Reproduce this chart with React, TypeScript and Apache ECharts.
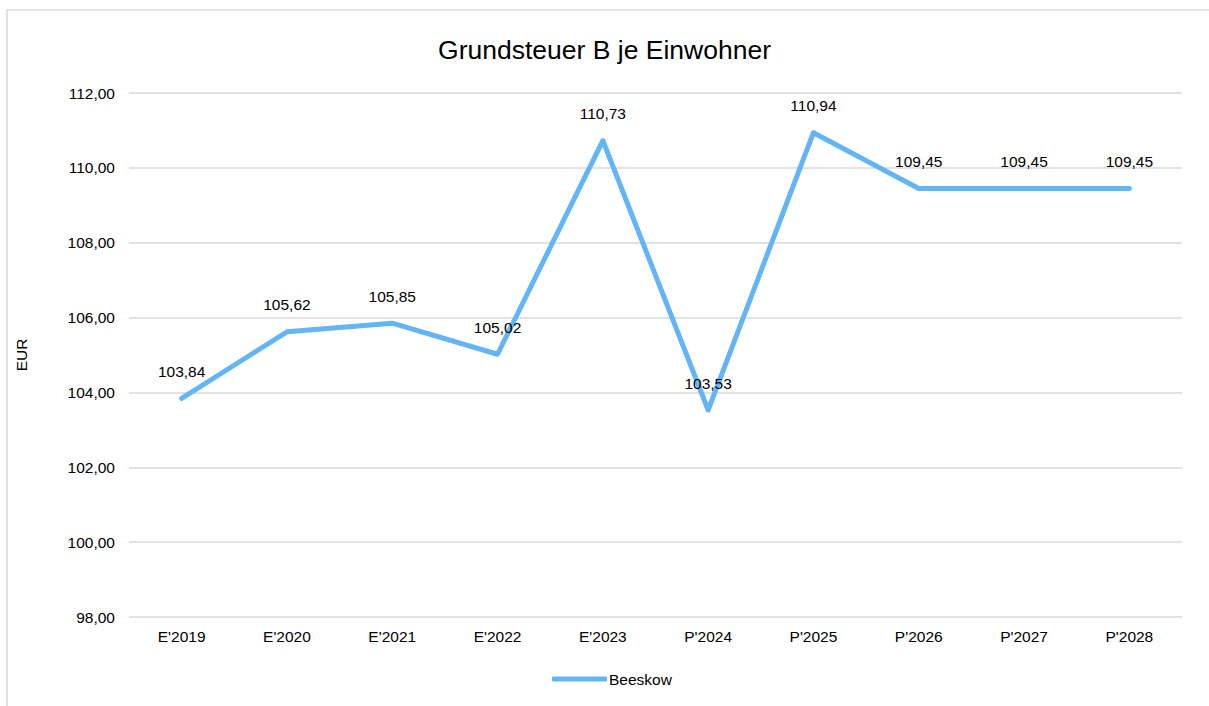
import React, { useEffect, useRef } from "react";
import * as echarts from "echarts";

const categories = ["E'2019", "E'2020", "E'2021", "E'2022", "E'2023", "P'2024", "P'2025", "P'2026", "P'2027", "P'2028"];
const values = [103.84, 105.62, 105.85, 105.02, 110.73, 103.53, 110.94, 109.45, 109.45, 109.45];
const seriesName = "Beeskow";
const titleText = "Grundsteuer B je Einwohner";
const yAxisName = "EUR";

const fmt = (v: number) => v.toFixed(2).replace(".", ",");
const FONT = "'Liberation Sans', Arial, sans-serif";
const FS = 15.5;
const LINE_COLOR = "#64b5f6";

export default function App() {
  const ref = useRef<HTMLDivElement>(null);
  useEffect(() => {
    document.body.style.margin = "0";
    const chart = echarts.init(ref.current!, null, { renderer: "svg" });
    chart.setOption({
      animation: false,
      backgroundColor: "#ffffff",
      textStyle: { fontFamily: FONT },
      title: {
        text: titleText,
        left: "center",
        top: 31,
        textStyle: { fontFamily: FONT, fontSize: 26.5, fontWeight: "normal", color: "#000" },
      },
      graphic: [
        {
          type: "rect",
          shape: { x: 7, y: 10, width: 1210, height: 720 },
          style: { fill: "none", stroke: "#d9d9d9", lineWidth: 1.5 },
          silent: true,
        },
      ],
      grid: { left: 129, right: 27, top: 93, bottom: 89, containLabel: false },
      legend: {
        data: [seriesName],
        left: 547,
        top: 666,
        icon: "roundRect",
        itemWidth: 55,
        itemHeight: 5,
        itemGap: 4,
        textStyle: { fontFamily: FONT, fontSize: FS, color: "#000", padding: [0, 0, 0, -3] },
      },
      xAxis: {
        type: "category",
        data: categories,
        axisLine: { show: false },
        axisTick: { show: false },
        axisLabel: { fontFamily: FONT, fontSize: FS, color: "#000", margin: 11 },
      },
      yAxis: {
        type: "value",
        min: 98,
        max: 112,
        interval: 2,
        name: yAxisName,
        nameLocation: "middle",
        nameGap: 100,
        nameTextStyle: { fontFamily: FONT, fontSize: FS, color: "#000" },
        axisLine: { show: false },
        axisTick: { show: false },
        axisLabel: { fontFamily: FONT, fontSize: FS, color: "#000", margin: 14, formatter: (v: number) => fmt(v) },
        splitLine: { lineStyle: { color: "#d9d9d9", width: 1.5 } },
      },
      series: [
        {
          name: seriesName,
          type: "line",
          data: values,
          symbol: "circle",
          symbolSize: 2,
          showSymbol: true,
          lineStyle: { color: LINE_COLOR, width: 5, cap: "round", join: "round" },
          itemStyle: { color: LINE_COLOR },
          label: {
            show: true,
            position: "top",
            distance: 18,
            fontFamily: FONT,
            fontSize: FS,
            color: "#000",
            formatter: (p: any) => fmt(p.value),
          },
        },
      ],
    });
    return () => chart.dispose();
  }, []);
  return <div ref={ref} style={{ width: 1209, height: 706 }} />;
}
